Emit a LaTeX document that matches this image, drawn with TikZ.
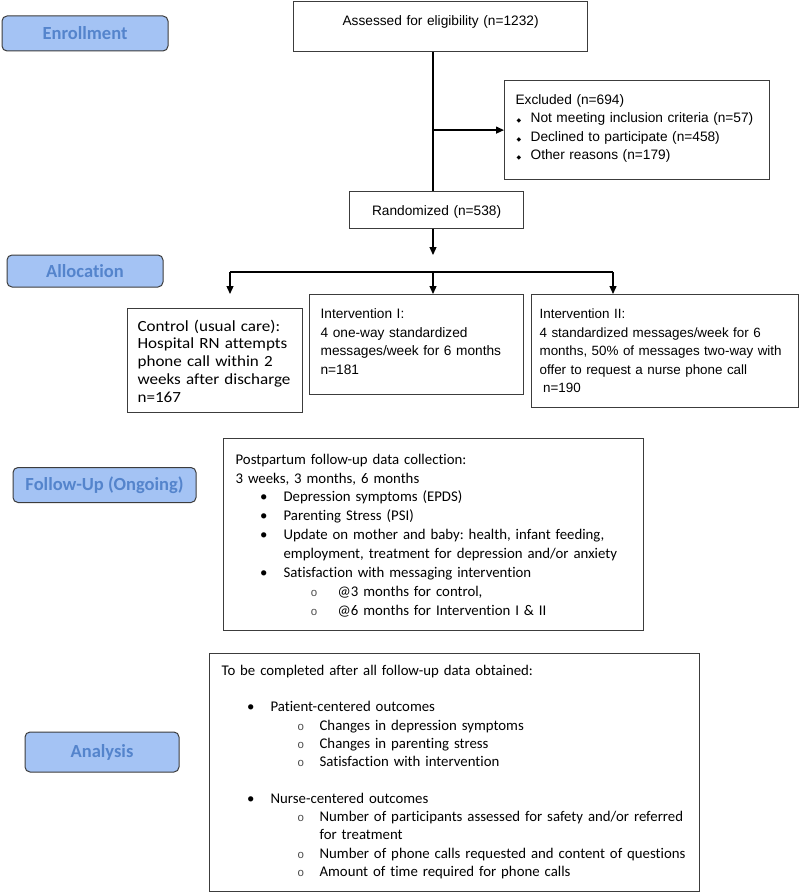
\documentclass[tikz,border=0pt]{standalone}
\usepackage{fontspec}
\setmainfont{Liberation Sans}
\newfontfamily\carlito[Ligatures=NoCommon]{Carlito}
\newfontfamily\carlitowide[Ligatures=NoCommon,FakeStretch=1.1]{Carlito}
\newfontfamily\dejavu{DejaVu Sans}
\newfontfamily\courier{Liberation Mono}
\usepackage{tikz}
\usetikzlibrary{positioning}
\usetikzlibrary{arrows.meta}
\frenchspacing
\hyphenpenalty=10000
\exhyphenpenalty=10000

\definecolor{phasefill}{RGB}{164,195,244}
\definecolor{phasetext}{RGB}{84,132,204}
\definecolor{boxline}{RGB}{60,60,60}

% list markers
\newcommand{\exbul}{\makebox[15pt][l]{\hspace{1pt}{\dejavu\fontsize{6}{6}\selectfont ◆}}}
\newcommand{\subo}{{\color{black!70}\courier\fontsize{11.5}{11}\selectfont o}}
\newcommand{\fubul}{\hspace*{24.5pt}\makebox[23.5pt][l]{•}}
\newcommand{\fusub}{\hspace*{75pt}\makebox[27pt][l]{\subo}}
\newcommand{\anbul}{\hspace*{25.4pt}\makebox[23.6pt][l]{•}}
\newcommand{\ansub}{\hspace*{75.7pt}\makebox[22.3pt][l]{\subo}}

\begin{document}
\begin{tikzpicture}[x=1pt,y=-1pt,>={Triangle[length=8pt,width=7pt]},
	phase/.style={draw=boxline,line width=1pt,fill=phasefill,rounded corners=5pt,
		inner sep=0pt,text=phasetext,font={\carlito\bfseries\fontsize{18.5}{20}\selectfont}},
	flow box/.style={draw=boxline,line width=1.2pt,anchor=north west,inner ysep=0pt,align=left},
	arial/.style={font={\fontsize{13.7}{18.5}\selectfont}},
	link/.style={line width=1.3pt}]

	\useasboundingbox (0,0) rectangle (800,893);

	% phase labels
	\node[phase,minimum width=166pt,minimum height=35pt] (enroll) at (85,33.5) {Enrollment};
	\node[phase,minimum width=156pt,minimum height=32pt] (alloc) at (85,271) {Allocation};
	\node[phase,minimum width=183pt,minimum height=35pt] (follow) at (104.5,485) {Follow-Up (Ongoing)};
	\node[phase,minimum width=154pt,minimum height=40pt] (analysis) at (102,752) {Analysis};

	% enrollment
	\node[flow box,arial,align=center,inner xsep=0pt,text width=294pt,
		text height=24pt,text depth=26pt] (assess) at (293,1) {Assessed for eligibility (n=1232)};
	\node[flow box,arial,inner xsep=11pt,text width=243pt,text height=24pt,text depth=75pt,
		font={\fontsize{13.7}{18.3}\selectfont}] (excl) at (504,80)
		{Excluded (n=694)\\
		\exbul Not meeting inclusion criteria (n=57)\\
		\exbul Declined to participate (n=458)\\
		\exbul Other reasons (n=179)};
	\node[flow box,arial,align=center,inner xsep=0pt,text width=174pt,
		text height=24pt,text depth=13pt] (rand) at (349,191) {Randomized (n=538)};

	% allocation
	\node[flow box,inner xsep=10pt,text width=155pt,text height=22.5pt,text depth=81.5pt,
		font={\carlitowide\fontsize{15.5}{17.8}\selectfont}] (ctrl) at (127,308)
		{Control (usual care):\\
		Hospital RN attempts\\
		phone call within 2\\
		weeks after discharge\\
		n=167};
	\node[flow box,arial,inner xsep=11pt,text width=192pt,text height=24pt,text depth=76pt] (int1) at (309,294)
		{Intervention I:\\
		4 one-way standardized\\
		messages/week for 6 months\\
		n=181};
	\node[flow box,inner xsep=8pt,text width=251pt,text height=24pt,text depth=89pt,
		font={\fontsize{13.4}{18.5}\selectfont}] (int2) at (531,294)
		{Intervention II:\\
		4 standardized messages/week for 6\\
		months, 50\% of messages two-way with\\
		offer to request a nurse phone call\\
		\hspace*{3.5pt}n=190};

	% follow-up
	\node[flow box,inner xsep=12pt,text width=396pt,text height=25.5pt,text depth=166.5pt,
		font={\carlito\fontsize{14.8}{18.9}\selectfont}] (data) at (223,438)
		{Postpartum follow-up data collection:\\
		3 weeks, 3 months, 6 months\\
		\fubul Depression symptoms (EPDS)\\
		\fubul Parenting Stress (PSI)\\
		\fubul Update on mother and baby: health, infant feeding,\\
		\hspace*{48pt}employment, treatment for depression and/or anxiety\\
		\fubul Satisfaction with messaging intervention\\
		\fusub @3 months for control,\\
		\fusub @6 months for Intervention I \& II};

	% analysis
	\node[flow box,inner xsep=12pt,text width=466pt,text height=21.5pt,text depth=216.5pt,
		font={\carlito\fontsize{14.8}{18.3}\selectfont}] (outc) at (209,653)
		{To be completed after all follow-up data obtained:\\[18.3pt]
		\anbul Patient-centered outcomes\\
		\ansub Changes in depression symptoms\\
		\ansub Changes in parenting stress\\
		\ansub Satisfaction with intervention\\[18.3pt]
		\anbul Nurse-centered outcomes\\
		\ansub Number of participants assessed for safety and/or referred\\
		\hspace*{98pt}for treatment\\
		\ansub Number of phone calls requested and content of questions\\
		\ansub Amount of time required for phone calls};

	% connectors
	\coordinate (stem) at (433,0);
	\coordinate (randtip) at (433,255);
	\coordinate (armL) at (230,272);
	\coordinate (armM) at (433,272);
	\coordinate (armR) at (613,272);

	\draw[link] (assess.south -| stem) -- (rand.north -| stem);
	\draw[link,->] (stem |- excl.west) -- (excl.west);
	\draw[link,->] (rand.south -| stem) -- (randtip);
	\draw[link] (armL) -- (armR);
	\draw[link,->] (armL) -- (armL |- int1.north);
	\draw[link,->] (armM) -- (int1.north -| armM);
	\draw[link,->] (armR) -- (armR |- int2.north);
\end{tikzpicture}
\end{document}
